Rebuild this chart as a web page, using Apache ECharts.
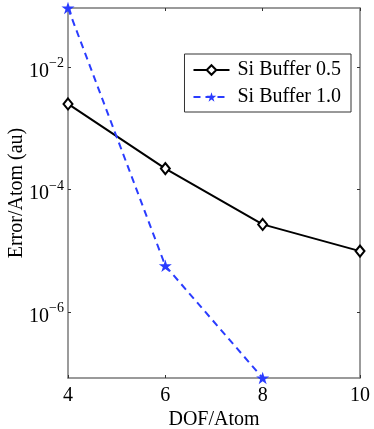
<!DOCTYPE html>
<html>
<head>
<meta charset="utf-8">
<script src="https://cdn.jsdelivr.net/npm/echarts@6/dist/echarts.min.js"></script>
<style>
  html, body { margin: 0; padding: 0; background: #fff; }
  #main { width: 374px; height: 429px; }
</style>
</head>
<body>
<div id="main"></div>
<script>
// data
const dofPerAtom = [4, 6, 8, 10];
const buffer05 = [2.5e-3, 2.2e-4, 2.7e-5, 9.9e-6];
const buffer10 = [9.2e-2, 5.7e-6, 8.4e-8];
const yTicks = [1e-6, 1e-4, 1e-2];
const xTicks = [4, 6, 8, 10];

const FONT = 'Liberation Serif';
const axisGray = '#7a7a7a';
const starPath = 'path://M50,0L61.2,34.5L97.6,34.5L68.2,55.9L79.4,90.5L50,69.1L20.6,90.5L31.8,55.9L2.4,34.5L38.8,34.5Z';

const chartDom = document.getElementById('main');
const myChart = echarts.init(chartDom);

const expLabel = (v) => {
    const e = Math.round(Math.log10(v));
    return '{b|10}{s|' + String(e).replace('-', '\u2212') + '}';
};

const baseX = {
    type: 'value',
    min: 4,
    max: 10,
    interval: 2,
    axisLine: { show: true, lineStyle: { color: axisGray, width: 1.5 } },
    axisTick: { show: true, inside: true, length: 3, lineStyle: { color: '#333' } },
    splitLine: { show: false }
};
const baseY = {
    type: 'log',
    logBase: 10,
    min: 8.4e-8,
    max: 9.2e-2,
    axisLine: { show: true, lineStyle: { color: axisGray, width: 1.5 } },
    axisTick: { show: true, inside: true, length: 3, lineStyle: { color: '#333' }, customValues: yTicks },
    splitLine: { show: false },
    minorTick: { show: false }
};

const option = {
    animation: false,
    backgroundColor: '#fff',
    grid: { left: 68, right: 14, top: 8, bottom: 51, containLabel: false, outerBoundsMode: 'none' },
    legend: {
        right: 23,
        top: 54,
        orient: 'vertical',
        backgroundColor: '#fff',
        borderColor: '#333',
        borderWidth: 1,
        borderRadius: 0,
        padding: [6, 10, 5, 8],
        itemGap: 7,
        itemWidth: 36,
        itemHeight: 12,
        textStyle: { fontFamily: FONT, fontSize: 20, color: '#000', padding: [0, 0, 0, 3] },
        data: ['Si Buffer 0.5', 'Si Buffer 1.0']
    },
    xAxis: [
        Object.assign({}, baseX, {
            position: 'bottom',
            name: 'DOF/Atom',
            nameLocation: 'middle',
            nameGap: 32,
            nameMoveOverlap: false,
            nameTextStyle: { fontFamily: FONT, fontSize: 20, color: '#000' },
            axisLabel: { show: true, margin: 8, fontFamily: FONT, fontSize: 20, color: '#000', customValues: xTicks }
        }),
        Object.assign({}, baseX, {
            position: 'top',
            axisLabel: { show: false }
        })
    ],
    yAxis: [
        Object.assign({}, baseY, {
            position: 'left',
            name: 'Error/Atom (au)',
            nameLocation: 'middle',
            nameGap: 41,
            nameMoveOverlap: false,
            nameTextStyle: { fontFamily: FONT, fontSize: 20, color: '#000' },
            axisLabel: {
                show: true,
                margin: 4,
                customValues: yTicks,
                formatter: expLabel,
                rich: {
                    b: { fontFamily: FONT, fontSize: 20, color: '#000', padding: [9, 0, 0, 0] },
                    s: { fontFamily: FONT, fontSize: 14, color: '#000', padding: [0, 0, 7, 0] }
                }
            }
        }),
        Object.assign({}, baseY, {
            position: 'right',
            axisLabel: { show: false }
        })
    ],
    series: [
        {
            name: 'Si Buffer 0.5',
            type: 'line',
            data: dofPerAtom.map((x, i) => [x, buffer05[i]]),
            symbol: 'emptyDiamond',
            symbolSize: [9, 11],
            itemStyle: { color: '#000', borderWidth: 1.5 },
            lineStyle: { color: '#000', width: 2 },
            clip: false
        },
        {
            name: 'Si Buffer 1.0',
            type: 'line',
            data: buffer10.map((y, i) => [dofPerAtom[i], y]),
            symbol: starPath,
            symbolSize: 13,
            symbolKeepAspect: true,
            itemStyle: { color: '#2a3cff' },
            lineStyle: { color: '#2a3cff', width: 2, type: [7, 5] },
            clip: false
        }
    ]
};

myChart.setOption(option);
window.addEventListener('resize', myChart.resize);
</script>
</body>
</html>
